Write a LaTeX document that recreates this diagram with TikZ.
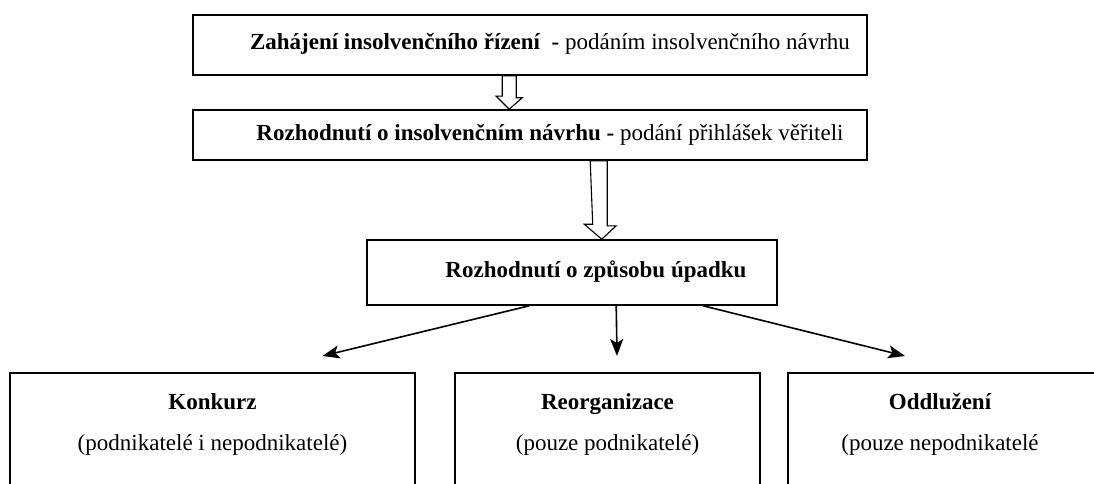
\documentclass[tikz,border=0pt]{standalone}
\usepackage{fontspec}
\setmainfont{Liberation Serif}
\usetikzlibrary{arrows.meta,calc}
\begin{document}
\begin{tikzpicture}[x=1pt,y=-1pt,
  txt/.style={font=\fontsize{23}{26}\selectfont,text height=15pt,text depth=5pt,inner sep=0pt},
  box/.style={draw,line width=1.6pt,inner sep=0pt,txt},
  hollow/.style={draw,line width=1.1pt,fill=white},
  conn/.style={line width=1.6pt,-{Stealth[length=17pt,width=13pt,inset=4pt]}}]
\clip (0,0) rectangle (1094,484);
\useasboundingbox (0,0) rectangle (1094,484);
% boxes
\node[box,minimum width=674pt,minimum height=60pt] (b1) at (530,45)
  {\hspace*{40pt}\textbf{Zahájení insolvenčního řízení\ \ -} podáním insolvenčního návrhu};
\node[box,minimum width=674pt,minimum height=50pt] (b2) at (530,135)
  {\hspace*{40pt}\textbf{Rozhodnutí o insolvenčním návrhu -} podání přihlášek věřiteli};
\node[box,minimum width=410pt,minimum height=65pt] (b3) at (572,272.5)
  {\hspace*{48pt}\textbf{Rozhodnutí o způsobu úpadku}};
\node[box,minimum width=405pt,minimum height=160pt,anchor=north] (k) at (212.5,372) {};
\node[box,minimum width=305pt,minimum height=160pt,anchor=north] (r) at (607.5,372) {};
\node[box,minimum width=320pt,minimum height=160pt,anchor=north west] (o) at (787,372) {};
\node[txt,font=\fontsize{23}{26}\selectfont\bfseries] (kt) at (212.5,404) {Konkurz};
\node[txt] (kd) at (212.5,445) {(podnikatelé i nepodnikatelé)};
\node[txt,font=\fontsize{23}{26}\selectfont\bfseries] (rt) at (607.5,404) {Reorganizace};
\node[txt] (rd) at (607.5,445) {(pouze podnikatelé)};
\node[txt,font=\fontsize{23}{26}\selectfont\bfseries] (ot) at (940,404) {Oddlužení};
\node[txt] (od) at (940,445) {(pouze nepodnikatelé};
% hollow arrows
\path[hollow] ($(b1.south west)+(310,0)$) -- ++(14,0) -- ++(0,22) -- ++(6,0)
  -- ($(b2.north west)+(317,0)$) -- ++(-13,-13) -- ++(6,0) -- cycle;
\path[hollow] ($(b2.south west)+(398,0)$) -- ++(17,0) -- ++(0,65) -- ++(9,0)
  -- ($(b3.north west)+(235.5,0)$) -- ++(-17.5,-15) -- ++(8.5,0) -- cycle;
% connectors
\coordinate (t1) at ($(k.north)+(110,-16)$);
\coordinate (t2) at ($(r.north)+(9.5,-16)$);
\coordinate (t3) at ($(o.north west)+(118,-16)$);
\draw[conn] ($(b3.south west)+(163,0)$) -- (t1);
\draw[conn] ($(b3.south west)+(250,0)$) -- (t2);
\draw[conn] ($(b3.south west)+(337,0)$) -- (t3);
\end{tikzpicture}
\end{document}
